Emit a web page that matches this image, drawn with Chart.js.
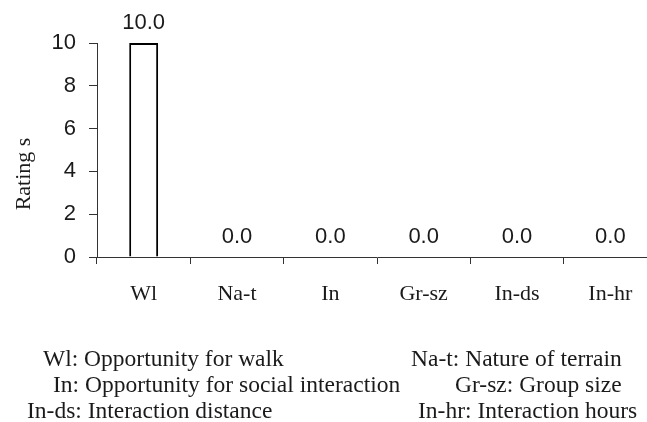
<!DOCTYPE html>
<html>
<head>
<meta charset="utf-8">
<script src="https://cdn.jsdelivr.net/npm/chart.js@4.4.0/dist/chart.umd.min.js"></script>
<style>
  html, body { margin: 0; padding: 0; background: #fff; overflow: hidden; }
</style>
</head>
<body>
<canvas id="myChart" width="660" height="422"></canvas>
<script>
// categories and values
const categories = ['Wl', 'Na-t', 'In', 'Gr-sz', 'In-ds', 'In-hr'];
const ratings = [10.0, 0.0, 0.0, 0.0, 0.0, 0.0];
const yTicks = [0, 2, 4, 6, 8, 10];
const axisTitle = 'Rating s';

// key under the chart, left and right column
const keyLeft = ['Wl: Opportunity for walk', 'In: Opportunity for social interaction', 'In-ds: Interaction distance'];
const keyRight = ['Na-t: Nature of terrain', 'Gr-sz: Group size', 'In-hr: Interaction hours'];

const serif = '"Liberation Serif", "Times New Roman", serif';
const sans = '"Liberation Sans", Arial, sans-serif';

// value labels above bars
const valueLabels = {
    id: 'valueLabels',
    afterDatasetsDraw(chart) {
        const ctx = chart.ctx;
        const meta = chart.getDatasetMeta(0);
        ctx.save();
        ctx.font = '22px ' + sans;
        ctx.fillStyle = '#1a1a1a';
        ctx.textAlign = 'center';
        ctx.textBaseline = 'alphabetic';
        meta.data.forEach(function (bar, i) {
            ctx.fillText(ratings[i].toFixed(1), bar.x, bar.y - 14);
        });
        ctx.restore();
    }
};

// rotated y title and the abbreviation key
const extraText = {
    id: 'extraText',
    afterDraw(chart) {
        const ctx = chart.ctx;
        ctx.save();
        ctx.fillStyle = '#1a1a1a';
        ctx.font = '22px ' + serif;
        ctx.translate(30, 174);
        ctx.rotate(-Math.PI / 2);
        ctx.textAlign = 'center';
        ctx.textBaseline = 'alphabetic';
        ctx.fillText(axisTitle, 0, 0);
        ctx.restore();

        ctx.save();
        ctx.fillStyle = '#1a1a1a';
        ctx.font = '23.5px ' + serif;
        ctx.textAlign = 'left';
        ctx.textBaseline = 'alphabetic';
        const leftX = [43, 53, 27];
        const rightX = [411, 455, 418];
        const rowY = [366, 392, 418];
        keyLeft.forEach(function (t, i) { ctx.fillText(t, leftX[i], rowY[i]); });
        keyRight.forEach(function (t, i) { ctx.fillText(t, rightX[i], rowY[i]); });
        ctx.restore();
    }
};

const ctx = document.getElementById('myChart');

new Chart(ctx, {
    type: 'bar',
    data: {
        labels: categories,
        datasets: [{
            data: ratings,
            backgroundColor: '#ffffff',
            borderColor: '#000000',
            borderWidth: 2,
            categoryPercentage: 1,
            barPercentage: 0.31
        }]
    },
    options: {
        responsive: false,
        animation: false,
        events: [],
        layout: { padding: { left: 0, right: 3, top: 43, bottom: 0 } },
        plugins: {
            legend: { display: false },
            tooltip: { enabled: false }
        },
        scales: {
            x: {
                offset: true,
                grid: {
                    offset: true,
                    drawOnChartArea: false,
                    drawTicks: true,
                    tickLength: 7,
                    color: '#333333',
                    lineWidth: 1
                },
                border: { display: true, color: '#333333', width: 1 },
                ticks: {
                    padding: 17,
                    color: '#1a1a1a',
                    font: { family: serif, size: 22 },
                    maxRotation: 0
                },
                afterFit: function (scale) { scale.height = 165; }
            },
            y: {
                min: 0,
                max: 10,
                afterBuildTicks: function (scale) {
                    scale.ticks = yTicks.map(function (v) { return { value: v }; });
                },
                grid: {
                    drawOnChartArea: false,
                    drawTicks: true,
                    tickLength: 8,
                    color: '#333333',
                    lineWidth: 1
                },
                border: { display: true, color: '#333333', width: 1 },
                ticks: {
                    padding: 13,
                    color: '#1a1a1a',
                    font: { family: sans, size: 22 }
                },
                afterFit: function (scale) { scale.width = 97; }
            }
        }
    },
    plugins: [valueLabels, extraText]
});
</script>
</body>
</html>
